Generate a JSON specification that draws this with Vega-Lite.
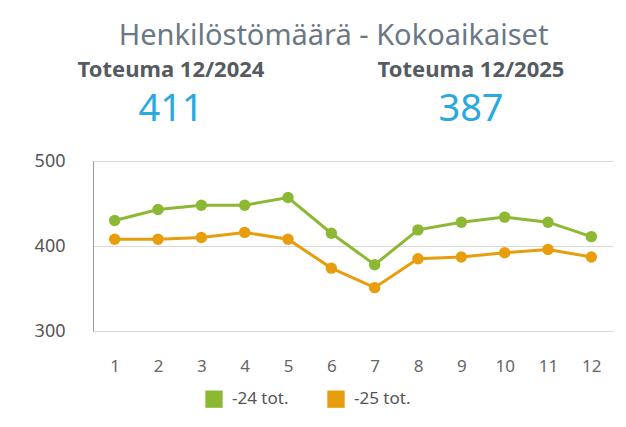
{
  "$schema": "https://vega.github.io/schema/vega-lite/v6.json",
  "background": "white",
  "padding": {"left": 34, "top": 22, "right": 10, "bottom": 6},
  "title": {"text": "Henkilöstömäärä - Kokoaikaiset", "fontSize": 29, "font": "Noto Sans", "fontWeight": "normal", "color": "#6b7883", "anchor": "middle", "offset": -4, "dx": 10},
  "spacing": 21,
  "config": {"view": {"stroke": null}, "font": "Noto Sans"},
  "resolve": {"scale": {"color": "independent", "x": "independent", "y": "independent"}},
  "vconcat": [
    {
      "width": 520,
      "height": 84,
      "data": {"values": [
        {"col": "2024", "kind": "label", "txt": "Toteuma 12/2024"},
        {"col": "2024", "kind": "value", "txt": "411"},
        {"col": "2025", "kind": "label", "txt": "Toteuma 12/2025"},
        {"col": "2025", "kind": "value", "txt": "387"}
      ]},
      "encoding": {
        "x": {"field": "col", "type": "nominal", "axis": null, "scale": {"range": [-72, 528], "paddingInner": 0, "paddingOuter": 0}},
        "y": {"field": "kind", "type": "nominal", "axis": null, "scale": {"domain": ["label", "value"], "paddingInner": 0, "paddingOuter": 0}},
        "text": {"field": "txt"}
      },
      "layer": [
        {"transform": [{"filter": "datum.kind === 'label'"}],
         "mark": {"type": "text", "baseline": "middle", "align": "center", "fontSize": 22, "fontWeight": "bold", "color": "#555b60", "dy": 2}},
        {"transform": [{"filter": "datum.kind === 'value'"}],
         "mark": {"type": "text", "baseline": "middle", "align": "center", "fontSize": 38, "fontWeight": "normal", "color": "#2aa9de"}}
      ]
    },
    {
      "width": 520,
      "height": 170,
      "data": {"values": [
        {"m": 1, "s": "-24 tot.", "v": 430}, {"m": 2, "s": "-24 tot.", "v": 443}, {"m": 3, "s": "-24 tot.", "v": 448},
        {"m": 4, "s": "-24 tot.", "v": 448}, {"m": 5, "s": "-24 tot.", "v": 457}, {"m": 6, "s": "-24 tot.", "v": 415},
        {"m": 7, "s": "-24 tot.", "v": 378}, {"m": 8, "s": "-24 tot.", "v": 419}, {"m": 9, "s": "-24 tot.", "v": 428},
        {"m": 10, "s": "-24 tot.", "v": 434}, {"m": 11, "s": "-24 tot.", "v": 428}, {"m": 12, "s": "-24 tot.", "v": 411},
        {"m": 1, "s": "-25 tot.", "v": 408}, {"m": 2, "s": "-25 tot.", "v": 408}, {"m": 3, "s": "-25 tot.", "v": 410},
        {"m": 4, "s": "-25 tot.", "v": 416}, {"m": 5, "s": "-25 tot.", "v": 408}, {"m": 6, "s": "-25 tot.", "v": 374},
        {"m": 7, "s": "-25 tot.", "v": 351}, {"m": 8, "s": "-25 tot.", "v": 385}, {"m": 9, "s": "-25 tot.", "v": 387},
        {"m": 10, "s": "-25 tot.", "v": 392}, {"m": 11, "s": "-25 tot.", "v": 396}, {"m": 12, "s": "-25 tot.", "v": 387}
      ]},
      "mark": {"type": "line", "strokeWidth": 3, "point": {"filled": true, "size": 130, "opacity": 1}},
      "encoding": {
        "x": {"field": "m", "type": "ordinal", "title": null, "scale": {"paddingOuter": 0.5},
          "axis": {"labelAngle": 0, "domain": false, "ticks": false, "labelPadding": 27, "labelFontSize": 17, "labelColor": "#666", "grid": false}},
        "y": {"field": "v", "type": "quantitative", "title": null, "scale": {"domain": [300, 500], "nice": false, "zero": false},
          "axis": {"values": [300, 400, 500], "ticks": false, "domain": true, "domainColor": "#9a9a9a", "gridColor": "#d9d9d9", "labelPadding": 28, "labelFontSize": 18, "labelColor": "#555"}},
        "color": {"field": "s", "type": "nominal", "title": null,
          "scale": {"domain": ["-24 tot.", "-25 tot."], "range": ["#8cb833", "#e89d0c"]},
          "legend": {"orient": "none", "legendX": 112, "legendY": 229, "direction": "horizontal", "symbolType": "square", "symbolSize": 300, "symbolStrokeWidth": 0, "labelFontSize": 17, "labelColor": "#555", "labelOffset": 9, "columnPadding": 38}}
      }
    }
  ]
}
